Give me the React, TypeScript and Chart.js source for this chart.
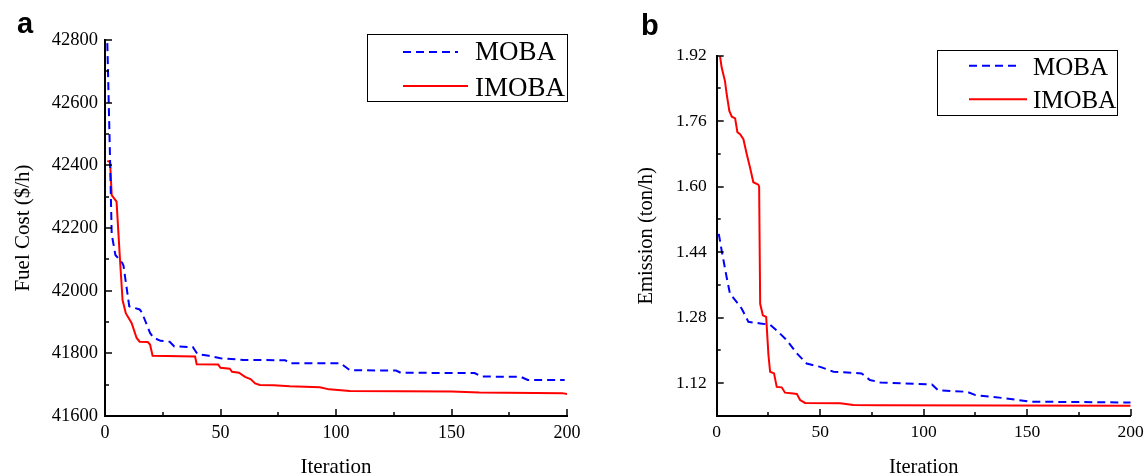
import { useEffect, useRef } from 'react';
import { Chart, registerables } from 'chart.js';

Chart.register(...registerables);

const SERIES_NAMES = ['MOBA', 'IMOBA'];

const ITER_TICKS = [0, 50, 100, 150, 200];
const ITER_MINOR = [25, 75, 125, 175];

const COST_TICKS = [41600, 41800, 42000, 42200, 42400, 42600, 42800];
const COST_MINOR = [41700, 41900, 42100, 42300, 42500, 42700];

const EMIS_TICKS = [1.12, 1.28, 1.44, 1.6, 1.76, 1.92];
const EMIS_MINOR = [1.2, 1.36, 1.52, 1.68, 1.84];

// Panel a: fuel cost
const costMobaIter = [1, 2, 2.9, 4.5, 7.5, 8, 10.5, 15, 16, 19.5, 21, 24, 28, 30, 38, 40, 45, 50, 60, 78, 80, 102, 106, 126, 128, 160, 163, 180, 183, 199];
const costMobaVal = [42790, 42480, 42180, 42114, 42088, 42080, 41950, 41940, 41930, 41865, 41850, 41840, 41837, 41822, 41820, 41798, 41792, 41784, 41779, 41778, 41768, 41768, 41746, 41745, 41738, 41737, 41726, 41725, 41715, 41715];

const costImobaIter = [1, 2.2, 2.9, 5, 6.5, 7.6, 9, 11.5, 13.7, 15, 18.5, 19.5, 20.6, 39, 39.7, 49, 50, 54, 55, 58, 60.6, 63, 65, 67, 73, 80, 93, 97, 106, 150, 162, 198, 200];
const costImobaVal = [42414, 42410, 42305, 42284, 42098, 41970, 41928, 41897, 41849, 41837, 41836, 41828, 41792, 41790, 41765, 41764, 41754, 41751, 41741, 41738, 41725, 41718, 41704, 41699, 41698, 41695, 41692, 41685, 41680, 41678, 41675, 41673, 41670];

// Panel b: emission
const emisMobaIter = [1, 2.4, 4.8, 6.4, 9.7, 12.1, 15.3, 21, 25.8, 29, 33.9, 38.7, 43.5, 50, 56.4, 70, 74, 79, 104, 107, 121, 125, 140, 151.6, 200];
const emisMobaVal = [1.485, 1.444, 1.379, 1.339, 1.318, 1.302, 1.27, 1.266, 1.263, 1.249, 1.225, 1.193, 1.168, 1.16, 1.148, 1.144, 1.128, 1.122, 1.117, 1.103, 1.099, 1.091, 1.083, 1.075, 1.073];

const emisImobaIter = [1.6, 2.4, 4, 4.8, 6.1, 7.3, 8.9, 10, 11.3, 12.9, 14.5, 16.1, 17.7, 20.1, 20.5, 21, 22.3, 23.9, 25, 25.8, 27.7, 29, 31.4, 33, 37, 38.7, 40.3, 42.7, 59.7, 66, 79, 200];
const emisImobaVal = [1.919, 1.891, 1.858, 1.827, 1.785, 1.771, 1.767, 1.733, 1.728, 1.716, 1.68, 1.647, 1.611, 1.605, 1.6, 1.314, 1.286, 1.282, 1.189, 1.148, 1.144, 1.111, 1.11, 1.097, 1.095, 1.094, 1.079, 1.072, 1.071, 1.067, 1.066, 1.065];

const SERIF = "'Liberation Serif', 'Times New Roman', serif";
const SANS = "'Liberation Sans', Arial, sans-serif";

const toPoints = (xs: number[], ys: number[]) => xs.map((x, i) => ({ x, y: ys[i] }));

const decorPlugin = {
  id: 'decor',
  afterDraw(chart: any, _args: any, opts: any) {
    const ctx = chart.ctx as CanvasRenderingContext2D;
    const xs = chart.scales.x;
    const ys = chart.scales.y;
    const area = chart.chartArea;
    ctx.save();
    ctx.strokeStyle = '#000';
    ctx.lineWidth = 1.5;
    ctx.setLineDash([]);
    const drawX = (vals: number[], len: number) => {
      vals.forEach((v) => {
        const px = Math.round(xs.getPixelForValue(v));
        ctx.beginPath();
        ctx.moveTo(px, area.bottom);
        ctx.lineTo(px, area.bottom - len);
        ctx.stroke();
      });
    };
    const drawY = (vals: number[], len: number) => {
      vals.forEach((v) => {
        const py = Math.round(ys.getPixelForValue(v));
        ctx.beginPath();
        ctx.moveTo(area.left, py);
        ctx.lineTo(area.left + len, py);
        ctx.stroke();
      });
    };
    drawX(opts.xMajor, 7);
    drawX(opts.xMinor, 4);
    drawY(opts.yMajor, 7);
    drawY(opts.yMinor, 4);

    // legend
    const lg = opts.legend;
    ctx.lineWidth = 1;
    ctx.strokeStyle = '#000';
    ctx.strokeRect(lg.x + 0.5, lg.y + 0.5, lg.w, lg.h);
    chart.data.datasets.forEach((ds: any, i: number) => {
      const row = lg.rows[i];
      ctx.strokeStyle = ds.borderColor;
      ctx.lineWidth = ds.borderWidth;
      ctx.setLineDash(ds.borderDash || []);
      ctx.beginPath();
      ctx.moveTo(row.x1, row.y);
      ctx.lineTo(row.x2, row.y);
      ctx.stroke();
      ctx.setLineDash([]);
      ctx.fillStyle = '#000';
      ctx.font = lg.font;
      ctx.textAlign = 'left';
      ctx.textBaseline = 'alphabetic';
      ctx.fillText(ds.label, lg.textX, row.base);
    });

    // panel letter
    ctx.fillStyle = '#000';
    ctx.font = `bold 29px ${SANS}`;
    ctx.textAlign = 'left';
    ctx.textBaseline = 'alphabetic';
    ctx.fillText(opts.letter.text, opts.letter.x, opts.letter.y);
    ctx.restore();
  },
};

type PanelCfg = {
  width: number;
  height: number;
  area: { left: number; top: number; right: number; bottom: number };
  yMin: number;
  yMax: number;
  yTicks: number[];
  yMinor: number[];
  yTitle: string;
  yTitleX: number;
  yDecimals: number;
  tickFont: number;
  xTickFont: number;
  yTickPad: number;
  titleFont: number;
  moba: { x: number; y: number }[];
  imoba: { x: number; y: number }[];
  legend: any;
  letter: any;
};

function makeConfig(p: PanelCfg): any {
  const lh = 1.2;
  return {
    type: 'line',
    data: {
      datasets: [
        {
          label: SERIES_NAMES[0],
          data: p.moba,
          borderColor: '#0000ff',
          borderWidth: 2,
          borderDash: [8, 5],
          pointRadius: 0,
          tension: 0,
          fill: false,
        },
        {
          label: SERIES_NAMES[1],
          data: p.imoba,
          borderColor: '#ff0000',
          borderWidth: 2,
          pointRadius: 0,
          tension: 0,
          fill: false,
        },
      ],
    },
    options: {
      responsive: false,
      animation: false,
      devicePixelRatio: 1,
      events: [],
      layout: {
        padding: {
          left: 0,
          top: p.area.top,
          right: p.width - p.area.right,
          bottom: 0,
        },
      },
      plugins: {
        legend: { display: false },
        tooltip: { enabled: false },
        decor: {
          xMajor: ITER_TICKS,
          xMinor: ITER_MINOR,
          yMajor: p.yTicks,
          yMinor: p.yMinor,
          legend: p.legend,
          letter: p.letter,
        },
      },
      scales: {
        x: {
          type: 'linear',
          min: 0,
          max: 200,
          afterBuildTicks: (s: any) => {
            s.ticks = ITER_TICKS.map((v) => ({ value: v }));
          },
          afterFit: (s: any) => {
            s.height = p.height - p.area.bottom;
            s.paddingLeft = 0;
            s.paddingRight = 0;
          },
          ticks: {
            color: '#000',
            font: { family: SERIF, size: p.xTickFont },
            padding: 6,
            maxRotation: 0,
            autoSkip: false,
            callback: (v: any) => String(v),
          },
          grid: { display: true, drawOnChartArea: false, drawTicks: false },
          border: { display: true, color: '#000', width: 2 },
          title: {
            display: true,
            text: 'Iteration',
            color: '#000',
            font: { family: SERIF, size: p.titleFont, lineHeight: 0.8 },
            padding: { top: 0, bottom: 0 },
          },
        },
        y: {
          type: 'linear',
          min: p.yMin,
          max: p.yMax,
          afterBuildTicks: (s: any) => {
            s.ticks = p.yTicks.map((v) => ({ value: v }));
          },
          afterFit: (s: any) => {
            s.width = p.area.left;
            s.paddingTop = 0;
            s.paddingBottom = 0;
          },
          ticks: {
            color: '#000',
            font: { family: SERIF, size: p.tickFont },
            padding: p.yTickPad,
            autoSkip: false,
            callback: (v: any) => Number(v).toFixed(p.yDecimals),
          },
          grid: { display: true, drawOnChartArea: false, drawTicks: false },
          border: { display: true, color: '#000', width: 2 },
          title: {
            display: true,
            text: p.yTitle,
            color: '#000',
            font: { family: SERIF, size: p.titleFont, lineHeight: lh },
            padding: { top: p.yTitleX - (p.titleFont * lh) / 2, bottom: 0 },
          },
        },
      },
    },
    plugins: [decorPlugin],
  };
}

const LEFT_W = 590;
const RIGHT_X = 590;
const RIGHT_W = 558;
const H = 476;

export default function App() {
  const leftRef = useRef<HTMLCanvasElement | null>(null);
  const rightRef = useRef<HTMLCanvasElement | null>(null);

  useEffect(() => {
    const leftCfg = makeConfig({
      width: LEFT_W,
      height: H,
      area: { left: 105, top: 40, right: 567, bottom: 416 },
      yMin: 41600,
      yMax: 42800,
      yTicks: COST_TICKS,
      yMinor: COST_MINOR,
      yTitle: 'Fuel Cost ($/h)',
      yTitleX: 23,
      yDecimals: 0,
      tickFont: 18.5,
      xTickFont: 18,
      yTickPad: 7,
      titleFont: 21,
      moba: toPoints(costMobaIter, costMobaVal),
      imoba: toPoints(costImobaIter, costImobaVal),
      legend: {
        x: 367,
        y: 34,
        w: 200,
        h: 67,
        font: `27px ${SERIF}`,
        textX: 475,
        rows: [
          { x1: 403, x2: 458, y: 52, base: 60 },
          { x1: 403, x2: 468, y: 86, base: 96 },
        ],
      },
      letter: { text: 'a', x: 17, y: 33 },
    });
    const rightCfg = makeConfig({
      width: RIGHT_W,
      height: H,
      area: { left: 126.7, top: 55.7, right: 540.7, bottom: 416 },
      yMin: 1.04,
      yMax: 1.92,
      yTicks: EMIS_TICKS,
      yMinor: EMIS_MINOR,
      yTitle: 'Emission (ton/h)',
      yTitleX: 57,
      yDecimals: 2,
      tickFont: 17.5,
      xTickFont: 17.5,
      yTickPad: 10,
      titleFont: 20.5,
      moba: toPoints(emisMobaIter, emisMobaVal),
      imoba: toPoints(emisImobaIter, emisImobaVal),
      legend: {
        x: 347,
        y: 50,
        w: 180,
        h: 65,
        font: `25px ${SERIF}`,
        textX: 443,
        rows: [
          { x1: 379, x2: 429, y: 65.7, base: 75 },
          { x1: 379, x2: 437, y: 99.3, base: 108.3 },
        ],
      },
      letter: { text: 'b', x: 51, y: 35 },
    });
    const c1 = new Chart(leftRef.current as HTMLCanvasElement, leftCfg);
    const c2 = new Chart(rightRef.current as HTMLCanvasElement, rightCfg);
    return () => {
      c1.destroy();
      c2.destroy();
    };
  }, []);

  return (
    <div style={{ position: 'absolute', left: 0, top: 0, width: 1148, height: H, background: '#fff', overflow: 'hidden' }}>
      <canvas ref={leftRef} width={LEFT_W} height={H} style={{ position: 'absolute', left: 0, top: 0 }} />
      <canvas ref={rightRef} width={RIGHT_W} height={H} style={{ position: 'absolute', left: RIGHT_X, top: 0 }} />
    </div>
  );
}
